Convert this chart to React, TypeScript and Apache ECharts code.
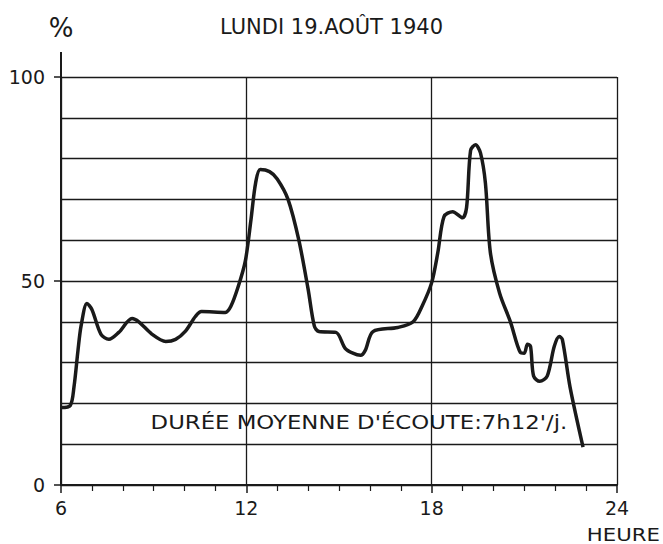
import React, { useEffect, useRef } from "react";
import * as echarts from "echarts";

const hours = [
  6.0, 6.3, 6.42, 6.55, 6.65, 6.84, 7.0, 7.29, 7.55, 7.87, 8.3, 8.52, 8.94, 9.39, 9.71, 10.03, 10.35, 10.55,
  11.32, 11.5, 11.74, 11.97, 12.15, 12.3, 12.45, 12.75, 13.0, 13.35, 13.7, 14.0, 14.2, 14.35, 14.9, 15.2,
  15.45, 15.7, 15.85, 16.1, 16.9, 17.4, 17.7, 18.0, 18.2, 18.4, 18.68, 19.0, 19.13, 19.26, 19.42, 19.58,
  19.74, 19.9, 20.2, 20.55, 20.87, 21.0, 21.1, 21.2, 21.3, 21.5, 21.74, 21.97, 22.13, 22.23, 22.48, 22.9,
];
const audience = [
  19, 19.5, 24, 33, 39, 44.5, 43, 37, 35.7, 37.4, 40.8, 40, 37, 35.2, 35.7, 37.7, 41.3, 42.5,
  42.3, 43.8, 48.7, 55, 65, 74, 77.3, 76.8, 75, 70, 60, 48, 39, 37.6, 37.4, 33.5,
  32.3, 31.8, 33, 37.6, 38.6, 40, 44, 49.6, 57, 65.8, 67, 65.5, 68, 82, 83.4, 81.4,
  74, 57, 47, 40, 32.5, 32.3, 34.5, 34, 26.7, 25.4, 26.7, 34, 36.4, 35.7, 24, 9.3,
];
const xTicks = [6, 12, 18, 24];
const yTicks = [0, 50, 100];
const titleText = "LUNDI 19.AOÛT 1940";
const noteText = "DURÉE MOYENNE D'ÉCOUTE:7h12'/j.";
const yName = "%";
const xName = "HEURE";

const INK = "#1a1a1a";
const FONT = "DejaVu Sans";

export default function App() {
  const ref = useRef<HTMLDivElement>(null);
  useEffect(() => {
    document.body.style.margin = "0";
    const chart = echarts.init(ref.current!, null, { renderer: "svg" });
    const data = hours.map((h, i) => [h, audience[i]]);
    chart.setOption({
      animation: false,
      backgroundColor: "#ffffff",
      title: {
        text: titleText,
        left: "center",
        top: 11,
        textStyle: { fontFamily: FONT, fontSize: 21, fontWeight: "normal", color: INK },
      },
      grid: { left: 61, right: 46, top: 77, bottom: 59 },
      xAxis: {
        type: "value",
        min: xTicks[0],
        max: xTicks[xTicks.length - 1],
        interval: 6,
        axisLine: { show: true, lineStyle: { color: INK, width: 2 } },
        axisTick: { show: true, length: 8, lineStyle: { color: INK, width: 1.5 } },
        minorTick: { show: true, splitNumber: 6, length: 6, lineStyle: { color: INK, width: 1.2 } },
        axisLabel: { fontFamily: FONT, fontSize: 19, color: INK, margin: 13 },
        splitLine: { show: true, lineStyle: { color: INK, width: 1.3 } },
      },
      yAxis: [
        {
          type: "value",
          min: 0,
          max: 100,
          interval: 50,
          name: yName,
          nameLocation: "end",
          nameGap: 36,
          nameTextStyle: { fontFamily: FONT, fontSize: 26, color: INK, align: "center" },
          axisLine: { show: true, lineStyle: { color: INK, width: 2 } },
          axisTick: { show: true, length: 7, lineStyle: { color: INK, width: 1.5 } },
          axisLabel: {
            fontFamily: FONT,
            fontSize: 19,
            color: INK,
            margin: 16,
            formatter: (v: number) => (yTicks.includes(v) ? String(v) : ""),
          },
          splitLine: { show: false },
        },
        {
          type: "value",
          min: 0,
          max: 100,
          interval: 10,
          position: "left",
          axisLine: { show: false },
          axisTick: { show: false },
          axisLabel: { show: false },
          splitLine: { show: true, lineStyle: { color: INK, width: 1.3 } },
        },
      ],
      series: [
        {
          type: "line",
          data,
          smooth: 0.3,
          showSymbol: false,
          lineStyle: { color: INK, width: 3.5 },
          z: 5,
        },
      ],
    });
    const [x0, yTop] = chart.convertToPixel({ gridIndex: 0 }, [6, 100]) as number[];
    const [xNote, yNote] = chart.convertToPixel({ gridIndex: 0 }, [8.9, 15.5]) as number[];
    const [xEnd, yZero] = chart.convertToPixel({ gridIndex: 0 }, [24, 0]) as number[];
    chart.setOption({
      graphic: [
        {
          type: "line",
          shape: { x1: x0, y1: yTop, x2: x0, y2: yTop - 25 },
          style: { stroke: INK, lineWidth: 2 },
        },
        {
          type: "text",
          x: xNote,
          y: yNote,
          scaleX: 1.14,
          style: {
            text: noteText,
            fontFamily: FONT,
            fontSize: 20,
            fill: INK,
            textAlign: "left",
            textVerticalAlign: "middle",
          },
          z: 10,
        },
        {
          type: "text",
          x: xEnd + 43,
          y: yZero + 50,
          scaleX: 1.25,
          style: {
            text: xName,
            fontFamily: FONT,
            fontSize: 17,
            fill: INK,
            textAlign: "right",
            textVerticalAlign: "middle",
          },
        },
      ],
    });
    return () => chart.dispose();
  }, []);
  return <div ref={ref} style={{ width: 663, height: 544 }} />;
}
